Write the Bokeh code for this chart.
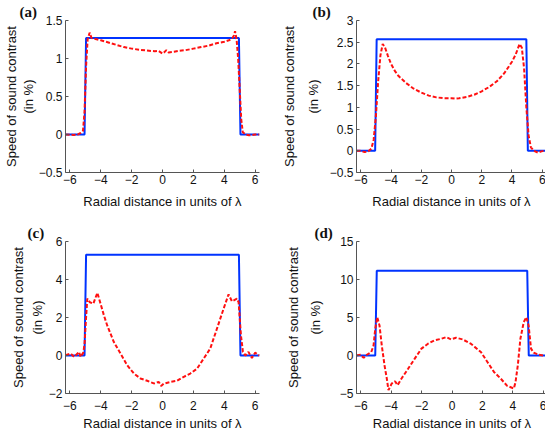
from bokeh.plotting import figure
from bokeh.models import LinearAxis, FixedTicker, Range1d
from bokeh.layouts import gridplot
from bokeh.embed import file_html
from bokeh.resources import INLINE

XLIM = (-6.2832, 6.2832)
XLABEL = "Radial distance in units of λ"
YLABEL_OUTER = "Speed of sound contrast"
YLABEL_INNER = "(in %)"

x_ticks = [-6, -4, -2, 0, 2, 4, 6]
x_tick_labels = ["−6", "−4", "−2", "0", "2", "4", "6"]

# true profile (step), shared x positions
true_x = [-6.2832, -5.05, -4.95, 4.95, 5.05, 6.2832]

# ---- panel (a)
a_true_level = 1.27
a_rec_x = [-6.28, -6.0, -5.75, -5.5, -5.3, -5.15, -5.05, -4.95, -4.85, -4.72, -4.6, -4.4,
           -4.0, -3.5, -3.0, -2.5, -2.0, -1.5, -1.0, -0.5, -0.25, 0.0, 0.1, 0.25, 0.4,
           0.75, 1.0, 1.5, 2.0, 2.5, 3.0, 3.5, 4.0, 4.3, 4.5, 4.62, 4.7, 4.8, 4.9, 5.0,
           5.1, 5.2, 5.4, 5.6, 5.8, 6.0, 6.28]
a_rec_y = [0.0, -0.003, -0.005, -0.003, 0.02, 0.05, 0.3, 0.9, 1.25, 1.34, 1.27, 1.26,
           1.24, 1.21, 1.18, 1.15, 1.13, 1.115, 1.105, 1.095, 1.10, 1.065, 1.08, 1.11, 1.08,
           1.09, 1.10, 1.11, 1.13, 1.15, 1.17, 1.20, 1.22, 1.24, 1.26, 1.30, 1.36, 1.25, 1.0, 0.6,
           0.2, 0.03, 0.0, -0.01, -0.008, 0.0, 0.0]
a_yticks = [-0.5, 0, 0.5, 1, 1.5]
a_ylabels = ["−0.5", "0", "0.5", "1", "1.5"]
a_ylim = (-0.5, 1.5)

# ---- panel (b)
b_true_level = 2.57
b_rec_x = [-6.28, -6.0, -5.75, -5.5, -5.3, -5.15, -5.0, -4.85, -4.7, -4.55, -4.4, -4.2,
           -4.0, -3.75, -3.5, -3.0, -2.5, -2.0, -1.5, -1.0, -0.5, 0.0, 0.25, 0.5, 1.0, 1.5,
           2.0, 2.5, 3.0, 3.5, 4.0, 4.25, 4.5, 4.65, 4.8, 4.95, 5.1, 5.25, 5.45, 5.7, 5.9,
           6.1, 6.28]
b_rec_y = [0.0, 0.0, -0.03, -0.01, 0.05, 0.25, 0.8, 1.6, 2.2, 2.46, 2.38, 2.18,
           2.0, 1.84, 1.72, 1.56, 1.43, 1.34, 1.27, 1.23, 1.21, 1.21, 1.20, 1.21, 1.24, 1.29,
           1.37, 1.47, 1.60, 1.79, 2.05, 2.22, 2.46, 2.38, 1.9, 1.0, 0.35, 0.08, 0.0, -0.04, -0.02,
           0.0, 0.0]
b_yticks = [-0.5, 0, 0.5, 1, 1.5, 2, 2.5, 3]
b_ylabels = ["−0.5", "0", "0.5", "1", "1.5", "2", "2.5", "3"]
b_ylim = (-0.5, 3.0)

# ---- panel (c)
c_true_level = 5.3
c_rec_x = [-6.28, -5.95, -5.73, -5.63, -5.41, -5.3, -5.13, -5.05, -4.95, -4.87, -4.7,
           -4.48, -4.22, -4.01, -3.79, -3.58, -3.15, -2.72, -2.29, -1.85, -1.43, -0.99,
           -0.56, -0.24, -0.09, 0.08, 0.51, 0.94, 1.38, 1.8, 2.24, 2.67, 3.09, 3.53, 3.96,
           4.28, 4.5, 4.82, 4.93, 5.08, 5.21, 5.36, 5.57, 5.79, 6.0, 6.28]
c_rec_y = [0.01, 0.1, -0.07, 0.0, 0.19, -0.07, 0.15, 0.6, 2.0, 2.99, 2.8,
           2.73, 3.3, 2.72, 2.1, 1.58, 0.71, 0.1, -0.51, -0.95, -1.21, -1.33,
           -1.47, -1.39, -1.6, -1.48, -1.39, -1.33, -1.12, -0.95, -0.69, -0.16, 0.36, 1.42, 2.47,
           3.22, 2.85, 2.99, 2.8, 1.07, 0.19, 0.0, 0.19, -0.13, 0.15, 0.0]
c_yticks = [-2, 0, 2, 4, 6]
c_ylabels = ["−2", "0", "2", "4", "6"]
c_ylim = (-2.0, 6.0)

# ---- panel (d)
d_true_level = 11.15
d_rec_x = [-6.28, -6.03, -5.81, -5.6, -5.31, -5.16, -5.05, -4.92, -4.77, -4.62, -4.44,
           -4.29, -4.18, -3.97, -3.75, -3.58, -3.32, -2.88, -2.45, -2.01, -1.58, -1.15,
           -0.71, -0.38, -0.06, 0.27, 0.7, 1.24, 1.9, 2.33, 2.76, 3.2, 3.63, 4.07, 4.18,
           4.33, 4.5, 4.72, 4.89, 5.04, 5.2, 5.37, 5.69, 6.02, 6.28]
d_rec_y = [0.0, 0.1, -0.3, 0.1, 0.46, 1.33, 3.5, 5.04, 3.95, 1.33, -1.29,
           -3.03, -4.56, -3.7, -3.38, -3.9, -3.03, -1.72, -0.41, 0.9, 1.55, 1.99,
           2.2, 2.42, 2.12, 2.34, 2.12, 1.55, 0.46, -0.85, -2.16, -3.03, -4.0, -4.34, -3.5,
           -1.29, 2.2, 4.39, 5.04, 3.95, 0.9, 0.37, 0.1, 0.0, 0.0]
d_yticks = [-5, 0, 5, 10, 15]
d_ylabels = ["−5", "0", "5", "10", "15"]
d_ylim = (-5.0, 15.0)

BLUE = "#0033ff"
RED = "#ff1010"
AXIS_COLOR = "#555555"
FONT = "Liberation Sans"


def panel(tag, level, rx, ry, yticks, ylabels, ylim, borders, frame, s_inner, s_outer,
          x_std, x_lab_std, tag_offset):
    left, right, top, bottom = borders
    fw, fh = frame
    p = figure(frame_width=fw, frame_height=fh,
               x_range=Range1d(*XLIM), y_range=Range1d(*ylim),
               output_backend="svg", toolbar_location=None,
               min_border_left=left, min_border_right=right,
               min_border_top=top, min_border_bottom=bottom,
               x_axis_label=XLABEL, y_axis_label=YLABEL_INNER, title=tag)
    p.outline_line_color = None
    p.grid.visible = False
    p.background_fill_color = "white"
    p.border_fill_color = "white"

    p.title.align = "left"
    p.title.offset = tag_offset
    p.title.standoff = 2
    p.title.text_font = "Liberation Serif"
    p.title.text_font_style = "bold"
    p.title.text_font_size = "15px"
    p.title.text_color = "#111111"

    ty = [0, 0, level, level, 0, 0]
    p.line(true_x, ty, color=BLUE, line_width=2)
    p.line(rx, ry, color=RED, line_width=2, line_dash="4 2")

    for ax in p.axis:
        ax.axis_line_color = AXIS_COLOR
        ax.axis_line_width = 1
        ax.major_tick_line_color = AXIS_COLOR
        ax.major_tick_in = 3
        ax.major_tick_out = 0
        ax.minor_tick_line_color = None
        ax.major_label_text_font = FONT
        ax.major_label_text_font_size = "12px"
        ax.major_label_text_color = "#111111"
        ax.axis_label_text_font = FONT
        ax.axis_label_text_font_size = "13px"
        ax.axis_label_text_font_style = "normal"
        ax.axis_label_text_color = "#111111"

    p.xaxis.ticker = FixedTicker(ticks=x_ticks)
    p.xaxis.major_label_overrides = dict(zip(x_ticks, x_tick_labels))
    p.xaxis.major_label_standoff = x_std
    p.xaxis.axis_label_standoff = x_lab_std

    p.yaxis.ticker = FixedTicker(ticks=yticks)
    p.yaxis.major_label_overrides = dict(zip(yticks, ylabels))
    p.yaxis.major_label_standoff = 3
    p.yaxis.axis_label_standoff = s_inner

    outer = LinearAxis(ticker=FixedTicker(ticks=[]), axis_label=YLABEL_OUTER,
                       axis_line_color=None, major_tick_line_color=None,
                       minor_tick_line_color=None, major_tick_in=0, major_tick_out=0,
                       major_label_standoff=0, axis_label_standoff=s_outer,
                       axis_label_text_font=FONT, axis_label_text_font_size="13px",
                       axis_label_text_font_style="normal", axis_label_text_color="#111111")
    p.add_layout(outer, "left")
    return p


pa = panel("(a)", a_true_level, a_rec_x, a_rec_y, a_yticks, a_ylabels, a_ylim,
           (55, 19, 20, 48), (194, 152), 0, -1, 2, 7, -46)
pb = panel("(b)", b_true_level, b_rec_x, b_rec_y, b_yticks, b_ylabels, b_ylim,
           (73, 6, 20, 48), (190, 152), 6, 6, 2, 7, -44)
pc = panel("(c)", c_true_level, c_rec_x, c_rec_y, c_yticks, c_ylabels, c_ylim,
           (51, 23, 21, 38), (194, 152), 1, 1, 7, 3, -38)
pd = panel("(d)", d_true_level, d_rec_x, d_rec_y, d_yticks, d_ylabels, d_ylim,
           (71, 7, 21, 38), (191, 152), 14, 4, 7, 3, -42)

grid = gridplot([[pa, pb], [pc, pd]], toolbar_location=None)

open("out.html", "w").write(file_html(grid, INLINE))
